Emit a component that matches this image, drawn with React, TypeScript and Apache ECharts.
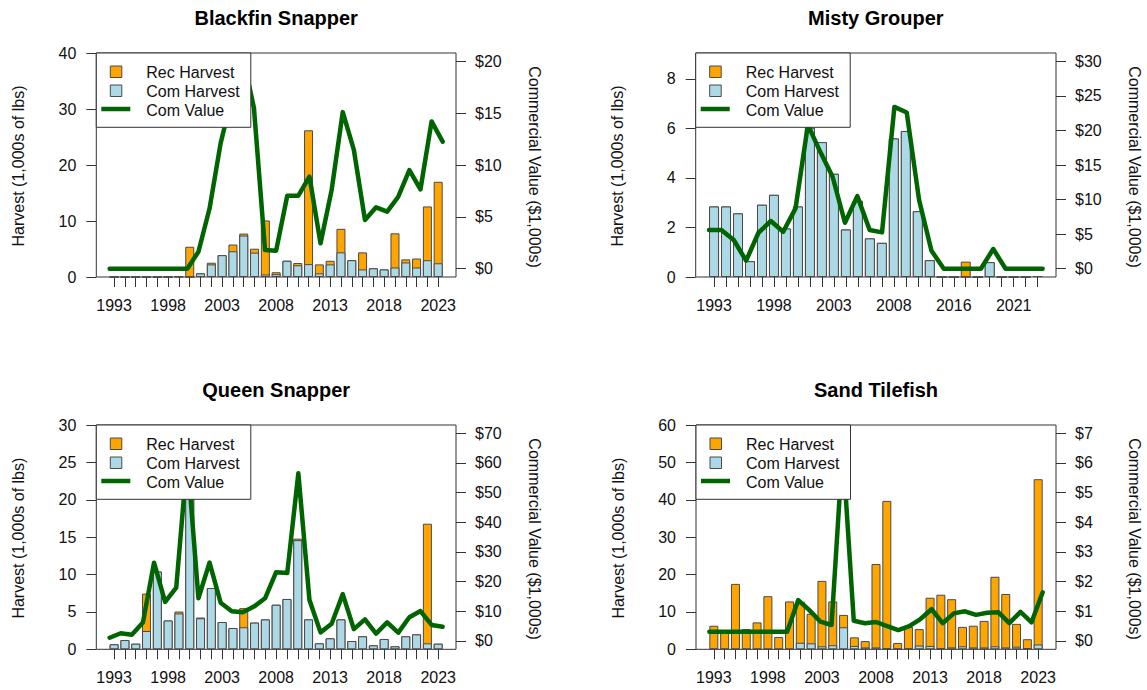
import React, { useEffect, useRef } from "react";
import * as echarts from "echarts";

// ---------------- data ----------------
const yearsFull = [
  1993, 1994, 1995, 1996, 1997, 1998, 1999, 2000, 2001, 2002, 2003, 2004, 2005, 2006, 2007, 2008,
  2009, 2010, 2011, 2012, 2013, 2014, 2015, 2016, 2017, 2018, 2019, 2020, 2021, 2022, 2023,
];
const yearsMisty = [
  1993, 1994, 1995, 1996, 1997, 1998, 1999, 2000, 2001, 2002, 2003, 2004, 2005, 2006, 2007, 2008,
  2009, 2010, 2011, 2012, 2016, 2017, 2018, 2019, 2020, 2021, 2022, 2023,
];

const blackfinCom = [0, 0, 0, 0, 0, 0, 0.1, 0, 0.65, 2.25, 3.9, 4.6, 7.4, 4.35, 0.45, 0.5, 2.9, 2.1, 2.3, 0.65, 2.25, 4.4, 3.0, 1.35, 1.55, 1.35, 1.7, 2.6, 1.7, 3.0, 2.45];
const blackfinRec = [0, 0, 0, 0, 0, 0, 0, 5.4, 0, 0.3, 0, 1.2, 0.35, 0.7, 9.65, 0.35, 0, 0.4, 23.9, 1.6, 0.65, 4.2, 0, 3.05, 0, 0, 6.1, 0.55, 1.6, 9.6, 14.55];
const blackfinValue = [0, 0, 0, 0, 0, 0, 0, 0, 1.64, 5.8, 12.1, 16.5, 20.5, 15.5, 1.8, 1.74, 7.04, 7.04, 8.87, 2.45, 7.6, 15.1, 11.45, 4.7, 5.92, 5.5, 6.94, 9.5, 7.65, 14.2, 12.25];

const mistyCom = [2.85, 2.85, 2.57, 0.64, 2.92, 3.32, 1.96, 2.85, 6.03, 5.45, 4.17, 1.92, 3.08, 1.56, 1.38, 5.6, 5.9, 2.66, 0.68, 0, 0, 0, 0, 0.6, 0, 0, 0, 0.04];
const mistyRec = [0, 0, 0, 0, 0, 0, 0, 0, 0, 0, 0, 0, 0, 0, 0, 0, 0, 0, 0, 0, 0, 0.62, 0, 0, 0, 0, 0, 0];
const mistyValue = [5.6, 5.6, 4.15, 1.16, 5.2, 6.9, 5.35, 8.73, 20.8, 16.9, 13.3, 6.65, 10.5, 5.6, 5.26, 23.4, 22.6, 9.94, 2.6, 0, 0, 0, 0, 2.85, 0, 0, 0, 0];

const queenCom = [0.67, 1.24, 0.75, 2.45, 10.4, 3.85, 4.8, 20.2, 4.15, 8.2, 3.65, 2.85, 2.95, 3.57, 4.0, 5.96, 6.73, 14.6, 4.0, 0.8, 1.47, 4.0, 1.11, 1.74, 0.53, 1.38, 0.4, 1.74, 2.0, 0.8, 0.75];
const queenRec = [0, 0, 0, 5.0, 0, 0, 0.25, 0, 0.1, 0, 0, 0, 2.55, 0, 0, 0, 0, 0.2, 0, 0, 0, 0, 0, 0, 0, 0, 0, 0, 0, 16.0, 0];
const queenValue = [1.1, 2.6, 2.1, 6.2, 26.4, 13.2, 18.0, 62, 14.4, 26.4, 12.9, 10.0, 9.7, 11.6, 14.4, 23.2, 22.9, 56.5, 13.8, 2.9, 5.8, 15.8, 4.0, 7.3, 2.5, 6.3, 2.8, 8.0, 10.1, 5.4, 4.8];

const sandCom = [0, 0, 0, 0, 0, 0, 0, 0, 1.75, 1.6, 0.8, 1.1, 5.9, 0.9, 0.5, 0.5, 0.2, 0.1, 0.1, 1.0, 0.9, 0.2, 0.5, 0.8, 0.5, 0.5, 0.8, 0.5, 0.7, 0.3, 1.3];
const sandRec = [6.3, 4.8, 17.5, 5.4, 7.2, 14.2, 3.3, 12.8, 10.95, 7.9, 17.5, 11.7, 3.3, 2.3, 1.7, 22.3, 39.5, 1.6, 5.9, 4.4, 12.9, 14.4, 12.9, 5.2, 5.8, 7.1, 18.6, 14.3, 6.1, 2.4, 44.2];
const sandValue = [0.31, 0.31, 0.31, 0.31, 0.31, 0.31, 0.31, 0.31, 1.38, 1.04, 0.65, 0.54, 6.5, 0.68, 0.6, 0.64, 0.5, 0.37, 0.5, 0.74, 1.07, 0.6, 0.93, 1.0, 0.88, 0.95, 0.97, 0.6, 0.98, 0.63, 1.64];

const blackfinLeftTicks = [0, 10, 20, 30, 40];
const blackfinRightTicks = [0, 5, 10, 15, 20];
const mistyLeftTicks = [0, 2, 4, 6, 8];
const mistyRightTicks = [0, 5, 10, 15, 20, 25, 30];
const queenLeftTicks = [0, 5, 10, 15, 20, 25, 30];
const queenRightTicks = [0, 10, 20, 30, 40, 50, 60, 70];
const sandLeftTicks = [0, 10, 20, 30, 40, 50, 60];
const sandRightTicks = [0, 1, 2, 3, 4, 5, 6, 7];

const legendLabels = ["Rec Harvest", "Com Harvest", "Com Value"];

// ---------------- styling ----------------
const FONT = "'Liberation Sans', Arial, Helvetica, sans-serif";
const ORANGE = "#FFA500";
const LIGHTBLUE = "#ADD8E6";
const GREEN = "#006400";
const BORDER = "#4a4a4a";
const AXIS = "#333333";

const panels = [
  { title: "Blackfin Snapper", years: yearsFull, com: blackfinCom, rec: blackfinRec, value: blackfinValue, leftTicks: blackfinLeftTicks, leftMax: 40, rightTicks: blackfinRightTicks, left: 96.3, top: 53, width: 359.7, height: 224 },
  { title: "Misty Grouper", years: yearsMisty, com: mistyCom, rec: mistyRec, value: mistyValue, leftTicks: mistyLeftTicks, leftMax: 9.05, rightTicks: mistyRightTicks, left: 695.7, top: 53, width: 360.3, height: 224 },
  { title: "Queen Snapper", years: yearsFull, com: queenCom, rec: queenRec, value: queenValue, leftTicks: queenLeftTicks, leftMax: 30, rightTicks: queenRightTicks, left: 96.3, top: 425, width: 359.7, height: 224.3 },
  { title: "Sand Tilefish", years: yearsFull, com: sandCom, rec: sandRec, value: sandValue, leftTicks: sandLeftTicks, leftMax: 60, rightTicks: sandRightTicks, left: 696, top: 425, width: 360, height: 224.3 },
];

function buildOption() {
  const grid: any[] = [];
  const xAxis: any[] = [];
  const yAxis: any[] = [];
  const series: any[] = [];
  const graphic: any[] = [];

  panels.forEach((p, idx) => {
    const n = p.years.length;
    const barRange = 1.2 * n - 0.2;
    const barMin = 0.2 - 0.04 * barRange;
    const barMax = 1.2 * n + 0.04 * barRange;
    const centers = p.years.map((_, i) => 0.7 + 1.2 * i);
    const labelCenters = centers.filter((_, i) => i % 5 === 0);
    const lineMin = 1 - 0.04 * (n - 1);
    const lineMax = n + 0.04 * (n - 1);
    const pxPerUnit = p.width / (barMax - barMin);
    const R = p.rightTicks[p.rightTicks.length - 1];

    grid.push({
      left: p.left,
      top: p.top,
      width: p.width,
      height: p.height,
      show: true,
      borderColor: AXIS,
      borderWidth: 1,
      backgroundColor: "transparent",
      containLabel: false,
    });

    const labelStyle = { fontSize: 16, color: "#111", fontFamily: FONT };
    const noLine = { show: false, onZero: false };

    xAxis.push({
      type: "value",
      gridIndex: idx,
      min: barMin,
      max: barMax,
      position: "bottom",
      axisLine: noLine,
      splitLine: { show: false },
      axisTick: { show: true, customValues: centers, length: 10, lineStyle: { color: AXIS, width: 1 } },
      axisLabel: {
        show: true,
        customValues: labelCenters,
        margin: 20,
        ...labelStyle,
        formatter: (v: number) => String(p.years[Math.round((v - 0.7) / 1.2)]),
      },
    });
    xAxis.push({
      type: "value",
      gridIndex: idx,
      min: lineMin,
      max: lineMax,
      position: "top",
      axisLine: noLine,
      show: false,
    });

    yAxis.push({
      type: "value",
      gridIndex: idx,
      position: "left",
      min: 0,
      max: p.leftMax,
      axisLine: noLine,
      splitLine: { show: false },
      axisTick: { show: true, customValues: p.leftTicks, length: 10, lineStyle: { color: AXIS, width: 1 } },
      axisLabel: { show: true, customValues: p.leftTicks, margin: 20, ...labelStyle },
    });
    yAxis.push({
      type: "value",
      gridIndex: idx,
      position: "right",
      min: -0.04 * R,
      max: 1.04 * R,
      axisLine: noLine,
      splitLine: { show: false },
      axisTick: { show: true, customValues: p.rightTicks, length: 10, lineStyle: { color: AXIS, width: 1 } },
      axisLabel: {
        show: true,
        customValues: p.rightTicks,
        margin: 19,
        ...labelStyle,
        formatter: (v: number) => "$" + v,
      },
    });

    // stacked look: total (rec on top of com) drawn first, com drawn over it
    series.push({
      type: "bar",
      name: "Rec Harvest",
      xAxisIndex: idx * 2,
      yAxisIndex: idx * 2,
      barWidth: pxPerUnit,
      barGap: "-100%",
      data: p.rec.map((v, i) => [centers[i], p.com[i] + v]),
      itemStyle: { color: ORANGE, borderColor: BORDER, borderWidth: 1 },
      z: 2,
    });
    series.push({
      type: "bar",
      name: "Com Harvest",
      xAxisIndex: idx * 2,
      yAxisIndex: idx * 2,
      barWidth: pxPerUnit,
      barGap: "-100%",
      data: p.com.map((v, i) => [centers[i], v]),
      itemStyle: { color: LIGHTBLUE, borderColor: BORDER, borderWidth: 1 },
      z: 2,
    });
    series.push({
      type: "line",
      name: "Com Value",
      xAxisIndex: idx * 2 + 1,
      yAxisIndex: idx * 2 + 1,
      data: p.value.map((v, j) => [j + 1, v]),
      symbol: "none",
      clip: true,
      lineStyle: { color: GREEN, width: 4.5, cap: "round", join: "round" },
      z: 3,
    });

    const cx = p.left + p.width / 2;
    const cy = p.top + p.height / 2;

    graphic.push({
      type: "text",
      x: cx,
      y: p.top - 35,
      z: 100,
      style: { text: p.title, fontFamily: FONT, fontSize: 20, fontWeight: "bold", fill: "#000", align: "center", verticalAlign: "middle" },
    });
    graphic.push({
      type: "text",
      x: p.left - 78,
      y: cy + 1,
      rotation: Math.PI / 2,
      z: 100,
      style: { text: "Harvest (1,000s of lbs)", fontFamily: FONT, fontSize: 16, fill: "#111", align: "center", verticalAlign: "middle" },
    });
    graphic.push({
      type: "text",
      x: p.left + p.width + 78,
      y: cy + 2,
      rotation: -Math.PI / 2,
      z: 100,
      style: { text: "Commercial Value ($1,000s)", fontFamily: FONT, fontSize: 16, fill: "#111", align: "center", verticalAlign: "middle" },
    });

    const lx = p.left;
    const ly = p.top;
    graphic.push({
      type: "rect",
      z: 100,
      shape: { x: lx, y: ly, width: 154.5, height: 74.3 },
      style: { fill: "#fff", stroke: AXIS, lineWidth: 1 },
    });
    graphic.push({
      type: "rect",
      z: 101,
      shape: { x: lx + 14, y: ly + 13, width: 11.5, height: 11.5 },
      style: { fill: ORANGE, stroke: BORDER, lineWidth: 1 },
    });
    graphic.push({
      type: "rect",
      z: 101,
      shape: { x: lx + 14, y: ly + 32, width: 11.5, height: 11.5 },
      style: { fill: LIGHTBLUE, stroke: BORDER, lineWidth: 1 },
    });
    graphic.push({
      type: "line",
      z: 101,
      shape: { x1: lx + 5, y1: ly + 56, x2: lx + 34, y2: ly + 56 },
      style: { stroke: GREEN, lineWidth: 4.5 },
    });
    legendLabels.forEach((t, k) => {
      graphic.push({
        type: "text",
        z: 101,
        x: lx + 50,
        y: ly + 19.5 + k * 18.8,
        style: { text: t, fontFamily: FONT, fontSize: 16, fill: "#111", align: "left", verticalAlign: "middle" },
      });
    });
  });

  return { animation: false, backgroundColor: "#fff", grid, xAxis, yAxis, series, graphic };
}

export default function App() {
  const ref = useRef<HTMLDivElement>(null);
  useEffect(() => {
    if (!ref.current) return;
    const chart = echarts.init(ref.current, undefined, { renderer: "svg" });
    chart.setOption(buildOption() as any);
    return () => chart.dispose();
  }, []);
  return (
    <div
      ref={ref}
      style={{ position: "absolute", left: 0, top: 0, width: 1147, height: 690, background: "#fff" }}
    />
  );
}
